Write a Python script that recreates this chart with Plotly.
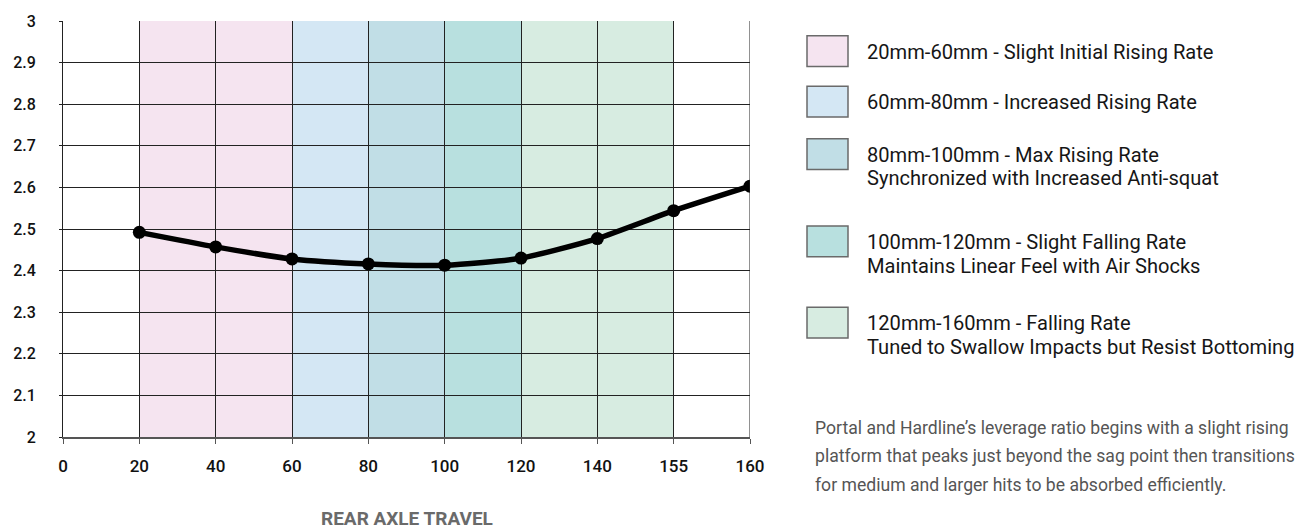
import plotly.graph_objects as go

# ---------------- data ----------------
x_categories = ["0", "20", "40", "60", "80", "100", "120", "140", "155", "160"]
travel = ["20", "40", "60", "80", "100", "120", "140", "155", "160"]
leverage = [2.492, 2.457, 2.428, 2.416, 2.413, 2.430, 2.477, 2.544, 2.603]

band_starts = ["20", "60", "80", "100", "120"]
band_ends = ["60", "80", "100", "120", "155"]
band_colors = ["#f5e4f0", "#d4e7f4", "#c1dee6", "#b8e0df", "#d7ece1"]
band_titles = [
    "20mm-60mm - Slight Initial Rising Rate",
    "60mm-80mm - Increased Rising Rate",
    "80mm-100mm - Max Rising Rate",
    "100mm-120mm - Slight Falling Rate",
    "120mm-160mm - Falling Rate",
]
band_subtitles = [
    "",
    "",
    "Synchronized with Increased Anti-squat",
    "Maintains Linear Feel with Air Shocks",
    "Tuned to Swallow Impacts but Resist Bottoming",
]
paragraph = [
    "Portal and Hardline\u2019s leverage ratio begins with a slight rising",
    "platform that peaks just beyond the sag point then transitions",
    "for medium and larger hits to be absorbed efficiently.",
]
x_title = "REAR AXLE TRAVEL"
y_ticks = [2.0, 2.1, 2.2, 2.3, 2.4, 2.5, 2.6, 2.7, 2.8, 2.9, 3.0]

# ---------------- layout geometry ----------------
W, H = 1301, 532
ML, MR, MT, MB = 63, 551, 17, 95
PW, PH = W - ML - MR, H - MT - MB
FONT = "Roboto, 'Open Sans', sans-serif"


def px_x(p):
    return (p - ML) / PW


def px_y(p):
    return (H - MB - p) / PH


fig = go.Figure()

fig.add_trace(go.Scatter(
    x=travel, y=leverage, mode="lines+markers",
    line=dict(color="#000000", width=5.5, shape="spline", smoothing=0.6),
    marker=dict(color="#000000", size=13),
    showlegend=False, hoverinfo="x+y",
))

shapes = []
idx = {c: i for i, c in enumerate(x_categories)}
for s, e, c in zip(band_starts, band_ends, band_colors):
    shapes.append(dict(type="rect", xref="x", yref="y", x0=idx[s], x1=idx[e],
                       y0=2, y1=3, fillcolor=c, line=dict(width=0), layer="below"))

annotations = []
sq_tops = [32, 83, 136, 224, 306]
LEG_FONT = dict(family=FONT, size=20.1, color="#161616")
for i, (c, t, st) in enumerate(zip(band_colors, band_titles, band_subtitles)):
    top = sq_tops[i]
    shapes.append(dict(type="rect", xref="paper", yref="paper",
                       x0=px_x(807), x1=px_x(848), y0=px_y(top + 31), y1=px_y(top),
                       fillcolor=c, line=dict(color="#6a6a6a", width=1.5)))
    cy = top + 16
    annotations.append(dict(xref="paper", yref="paper", x=px_x(865), y=px_y(cy),
                            xanchor="left", yanchor="middle", showarrow=False,
                            text=t, font=LEG_FONT))
    if st:
        annotations.append(dict(xref="paper", yref="paper", x=px_x(865), y=px_y(cy + 24),
                                xanchor="left", yanchor="middle", showarrow=False,
                                text=st, font=LEG_FONT))

for j, line in enumerate(paragraph):
    annotations.append(dict(xref="paper", yref="paper", x=px_x(813), y=px_y(428 + j * 28.5),
                            xanchor="left", yanchor="middle", showarrow=False,
                            text=line, font=dict(family=FONT, size=17.6, color="#555555")))

annotations.append(dict(xref="paper", yref="paper", x=0.5, y=px_y(519),
                        xanchor="center", yanchor="middle", showarrow=False,
                        text="<b>" + x_title + "</b>",
                        font=dict(family=FONT, size=19, color="#6a6a6a")))

fig.update_layout(
    width=W, height=H,
    margin=dict(l=ML, r=MR, t=MT, b=MB, pad=0),
    paper_bgcolor="white", plot_bgcolor="white",
    annotations=annotations,
    font=dict(family=FONT, color="#111111"),
)
fig.update_xaxes(
    type="category", categoryorder="array", categoryarray=x_categories,
    range=[0, len(x_categories) - 1],
    tickvals=x_categories, ticktext=x_categories,
    showgrid=True, gridcolor="#222222", gridwidth=1,
    showline=True, linecolor="#555555", linewidth=2, mirror=False,
    ticks="outside", ticklen=5, tickcolor="#555555",
    tickfont=dict(family=FONT, size=17, weight=500, color="#111111"),
    ticklabelstandoff=8, zeroline=False,
)
fig.update_yaxes(
    range=[2, 3], tickvals=y_ticks,
    ticktext=[f"{v:g}" for v in y_ticks],
    showgrid=True, gridcolor="#222222", gridwidth=1,
    showline=True, linecolor="#222222", linewidth=1,
    ticks="outside", ticklen=3, tickcolor="#222222",
    tickfont=dict(family=FONT, size=16, weight=500, color="#111111"),
    ticklabelstandoff=20, zeroline=False,
)
# right border at last category
shapes.append(dict(type="line", xref="x", yref="y", x0=len(x_categories) - 1,
                   x1=len(x_categories) - 1, y0=2, y1=3,
                   line=dict(color="#222222", width=1)))
fig.update_layout(shapes=shapes)

fig.write_html(
    "out.html",
    config={"displayModeBar": False},
    post_script="document.body.style.margin='0px';document.body.style.overflow='hidden';",
)
